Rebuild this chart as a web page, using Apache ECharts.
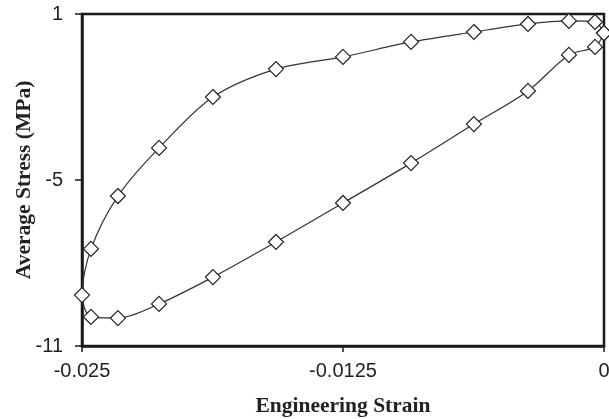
<!DOCTYPE html>
<html>
<head>
<meta charset="utf-8">
<script src="https://cdn.jsdelivr.net/npm/echarts@6/dist/echarts.min.js"></script>
<style>
  html, body { margin: 0; padding: 0; background: #fff; }
  #chart { width: 609px; height: 419px; }
</style>
</head>
<body>
<div id="chart"></div>
<script>
// strain positions shared by both branches (from 0 going to -0.025)
const strain = [0, -0.00043, -0.00168, -0.00364, -0.00623, -0.00924, -0.0125,
  -0.01571, -0.01873, -0.02131, -0.02328, -0.02457, -0.025];
// upper branch (unloading), same order as strain
const upperStress = [0.31, 0.71, 0.75, 0.64, 0.35, -0.01, -0.55, -0.99, -2.0,
  -3.84, -5.58, -7.49, -9.16];
// lower branch (loading), same order as strain
const lowerStress = [0.31, -0.19, -0.48, -1.78, -2.98, -4.39, -5.83, -7.24,
  -8.51, -9.48, -9.99, -9.95, -9.16];

const xTicks = [-0.025, -0.0125, 0];
const yTicks = [-11, -5, 1];

// build the closed loop: along the upper branch to the left, back along the lower one
const loop = [];
for (let i = 0; i < strain.length; i++) loop.push([strain[i], upperStress[i]]);
for (let i = strain.length - 2; i >= 0; i--) loop.push([strain[i], lowerStress[i]]);

const chart = echarts.init(document.getElementById('chart'));

const axisColor = '#1a1a1a';
const labelFont = { color: '#222', fontFamily: 'Liberation Sans', fontSize: 20 };
const nameFont = { color: '#222', fontFamily: 'Liberation Serif', fontWeight: 'bold', fontSize: 21.5 };

chart.setOption({
  animation: false,
  backgroundColor: '#fff',
  grid: {
    left: 82, right: 5, top: 14, bottom: 73,
    containLabel: false,
    outerBoundsMode: 'none',
    show: true,
    borderColor: axisColor,
    borderWidth: 2.5
  },
  xAxis: {
    type: 'value',
    min: -0.025,
    max: 0,
    name: 'Engineering Strain',
    nameLocation: 'middle',
    nameGap: 49,
    nameMoveOverlap: false,
    nameTextStyle: nameFont,
    splitLine: { show: false },
    axisLine: { onZero: false, lineStyle: { color: axisColor, width: 2.5 } },
    axisTick: { customValues: xTicks, length: 6, lineStyle: { color: axisColor, width: 1.5 } },
    axisLabel: Object.assign({ customValues: xTicks, margin: 15 }, labelFont)
  },
  yAxis: {
    type: 'value',
    min: -11,
    max: 1,
    name: 'Average Stress (MPa)',
    nameLocation: 'middle',
    nameGap: 47,
    nameMoveOverlap: false,
    nameTextStyle: nameFont,
    splitLine: { show: false },
    axisLine: { onZero: false, lineStyle: { color: axisColor, width: 2.5 } },
    axisTick: { customValues: yTicks, length: 7, lineStyle: { color: axisColor, width: 1.5 } },
    axisLabel: Object.assign({ customValues: yTicks, margin: 19 }, labelFont)
  },
  series: [
    {
      type: 'line',
      data: loop,
      smooth: 0.3,
      clip: false,
      symbol: 'diamond',
      symbolSize: 15,
      lineStyle: { color: '#333', width: 1.2 },
      itemStyle: { color: '#fff', borderColor: '#222', borderWidth: 1.2 }
    }
  ]
});
</script>
</body>
</html>
